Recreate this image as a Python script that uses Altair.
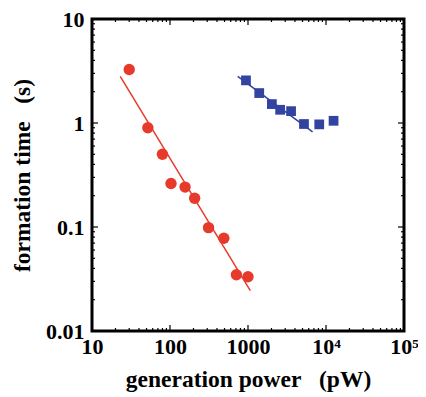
import altair as alt
import pandas as pd

# data
red_x = [30, 52, 80, 103, 156, 207, 312, 490, 710, 1000]
red_y = [3.27, 0.90, 0.50, 0.262, 0.242, 0.189, 0.0986, 0.078, 0.0347, 0.0332]
blue_x = [942, 1393, 2023, 2584, 3566, 5220, 8190, 12500]
blue_y = [2.57, 1.94, 1.52, 1.34, 1.30, 0.978, 0.97, 1.05]
red_fit_x = [23, 1070]
red_fit_y = [2.81, 0.0245]
blue_fit_x = [738, 6730]
blue_fit_y = [2.81, 0.82]

x_major = [10, 100, 1000, 10000, 100000]
y_major = [0.01, 0.1, 1, 10]
x_minor = [m * d for d in [10, 100, 1000, 10000] for m in range(2, 10)]
y_minor = [m * d for d in [0.01, 0.1, 1] for m in range(2, 10)]

RED = "#e63b2b"
BLUE = "#3343a1"
FONT = "Liberation Serif"
W, H = 312, 312
NB = "\u00a0"

xs = alt.Scale(type="log", domain=[10, 100000])
ys = alt.Scale(type="log", domain=[0.01, 10])

red = pd.DataFrame({"x": red_x, "y": red_y})
blue = pd.DataFrame({"x": blue_x, "y": blue_y})
red_fit = pd.DataFrame({"x": red_fit_x, "y": red_fit_y})
blue_fit = pd.DataFrame({"x": blue_fit_x, "y": blue_fit_y})

x_lab = ("datum.value == 10000 ? '10\u2074' : datum.value == 100000 ? '10\u2075' : "
         "format(datum.value, 'd')")
y_lab = "datum.value >= 1 ? format(datum.value, 'd') : format(datum.value, '.2~f')"

base_x = alt.X("x:Q", scale=xs, axis=alt.Axis(
    values=x_major, labelExpr=x_lab, ticks=False, domain=False, grid=False,
    labelFont=FONT, labelFontWeight="bold", labelFontSize=22, labelColor="black",
    labelPadding=5, labelFlush=False,
    title="generation power" + NB * 3 + "(pW)", titleFont=FONT, titleFontWeight="bold",
    titleFontSize=23.5, titleColor="black", titlePadding=10))
base_y = alt.Y("y:Q", scale=ys, axis=alt.Axis(
    values=y_major, labelExpr=y_lab, ticks=False, domain=False, grid=False,
    labelFont=FONT, labelFontWeight="bold", labelFontSize=22, labelColor="black",
    labelPadding=8, labelFlush=False,
    title="formation time" + NB * 3 + "(s)", titleFont=FONT, titleFontWeight="bold",
    titleFontSize=23.5, titleColor="black", titlePadding=11))

red_line = alt.Chart(red_fit).mark_line(color=RED, strokeWidth=1.5).encode(x=base_x, y=base_y)
blue_line = alt.Chart(blue_fit).mark_line(color=BLUE, strokeWidth=1.5).encode(x="x:Q", y="y:Q")
red_pts = alt.Chart(red).mark_circle(color=RED, size=130, opacity=1).encode(x="x:Q", y="y:Q")
blue_pts = alt.Chart(blue).mark_square(color=BLUE, size=95, opacity=1).encode(x="x:Q", y="y:Q")


def xticks(vals, ln):
    df = pd.DataFrame({"x": vals})
    b = alt.Chart(df).mark_rule(color="black", strokeWidth=1.2).encode(
        x=alt.X("x:Q", scale=xs), y=alt.value(H), y2=alt.value(H - ln))
    t = alt.Chart(df).mark_rule(color="black", strokeWidth=1.2).encode(
        x=alt.X("x:Q", scale=xs), y=alt.value(0), y2=alt.value(ln))
    return [b, t]


def yticks(vals, ln):
    df = pd.DataFrame({"y": vals})
    l = alt.Chart(df).mark_rule(color="black", strokeWidth=1.2).encode(
        y=alt.Y("y:Q", scale=ys), x=alt.value(0), x2=alt.value(ln))
    r = alt.Chart(df).mark_rule(color="black", strokeWidth=1.2).encode(
        y=alt.Y("y:Q", scale=ys), x=alt.value(W), x2=alt.value(W - ln))
    return [l, r]


layers = [red_line, blue_line, red_pts, blue_pts]
layers += xticks(x_major[1:-1], 6) + xticks(x_minor, 3)
layers += yticks(y_major[1:-1], 6) + yticks(y_minor, 3)

chart = alt.layer(*layers).properties(
    width=W, height=H,
    autosize=alt.AutoSizeParams(type="none"),
    padding={"left": 84, "top": 11, "right": 14, "bottom": 62},
).configure(background="white").configure_view(stroke="black", strokeWidth=3)

chart.save("out.html", embed_options={"renderer": "svg", "actions": False})
